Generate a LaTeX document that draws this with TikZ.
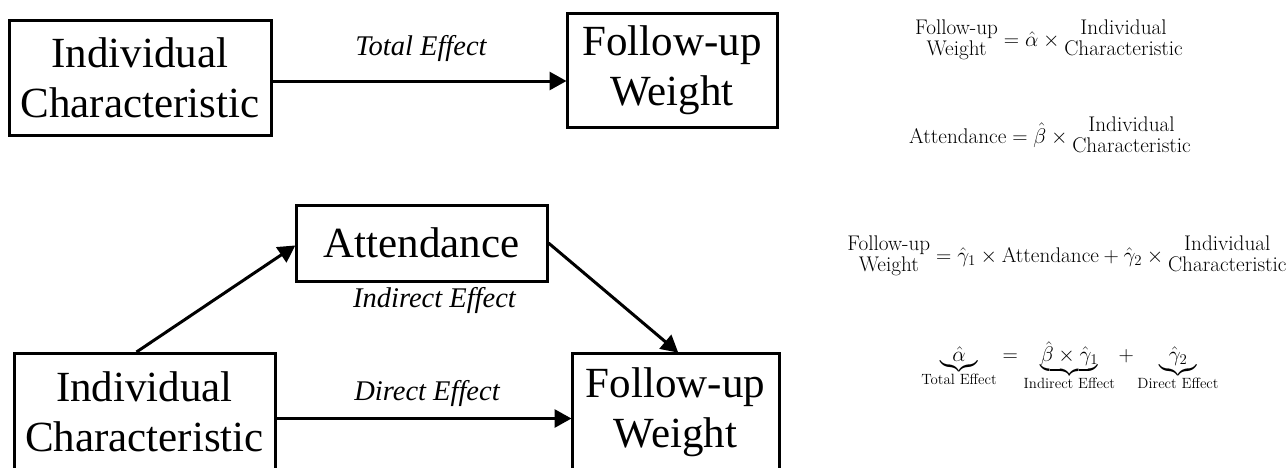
\RequirePackage{fix-cm}
\documentclass[tikz,border=0pt]{standalone}
\usepackage{amsmath}
\usepackage{fontspec}
\newfontfamily\tnr{Liberation Serif}
\usetikzlibrary{arrows.meta}
\newcommand\stk[1]{\vcenter{\hbox{\begin{tabular}{@{}c@{}}#1\end{tabular}}}}
\begin{document}
\begin{tikzpicture}[x=1pt,y=-1pt,
  box/.style={draw, line width=3pt, inner sep=0pt, align=center,
    font=\tnr\fontsize{43}{50}\selectfont},
  arr/.style={line width=3pt, -{Triangle[length=17pt,width=18pt]}, shorten >=-1pt},
  lbl/.style={font=\tnr\itshape\fontsize{28.5}{30}\selectfont, inner sep=0pt, anchor=base},
  eqn/.style={font=\fontsize{21.2}{20.5}\selectfont, inner sep=0pt}]
\useasboundingbox (0,0) rectangle (1288,467);
% top row
\node[box, minimum width=262pt, minimum height=115pt] (ic1) at (140,77.5) {Individual\\Characteristic};
\node[box, minimum width=210pt, minimum height=114pt] (fw1) at (672,70) {Follow-up\\Weight};
\coordinate (ty) at (0,81);
\draw[arr] (ic1.east |- ty) -- (fw1.west |- ty);
\node[lbl] (te) at (421,55) {Total Effect};
% bottom row
\node[box, minimum width=251pt, minimum height=76pt] (att) at (421.5,243) {Attendance};
\node[box, minimum width=261pt, minimum height=117pt] (ic2) at (144.5,412) {Individual\\Characteristic};
\node[box, minimum width=207pt, minimum height=117pt] (fw2) at (675.5,412) {Follow-up\\Weight};
\draw[arr] ([xshift=-8pt]ic2.north) -- ([yshift=-3pt]att.west);
\draw[arr] (att.east) -- ([xshift=2pt]fw2.north);
\coordinate (dy) at (0,418.5);
\draw[arr] (ic2.east |- dy) -- (fw2.west |- dy);
\node[lbl] (ie) at (434.5,307) {Indirect Effect};
\node[lbl] (de) at (427,400) {Direct Effect};
% equations
\node[eqn] (e1) at (1049,41) {$\stk{Follow-up\\Weight} = \hat{\alpha}\times\stk{Individual\\Characteristic}$};
\node[eqn] (e2) at (1050,138) {$\text{Attendance} = \hat{\beta}\times\stk{Individual\\Characteristic}$};
\node[eqn] (e3) at (1067,257) {$\stk{Follow-up\\Weight} = \hat{\gamma}_1\times\text{Attendance} + \hat{\gamma}_2\times\stk{Individual\\Characteristic}$};
\node[eqn] (e4) at (1070,366) {$\underbrace{\hskip0.55em\hat{\alpha}\hskip0.55em}_{\text{Total Effect}} = \underbrace{\hat{\beta}\times\hat{\gamma}_1}_{\text{Indirect Effect}} + \underbrace{\hskip0.45em\hat{\gamma}_2\hskip0.45em}_{\text{Direct Effect}}$};
\end{tikzpicture}
\end{document}
